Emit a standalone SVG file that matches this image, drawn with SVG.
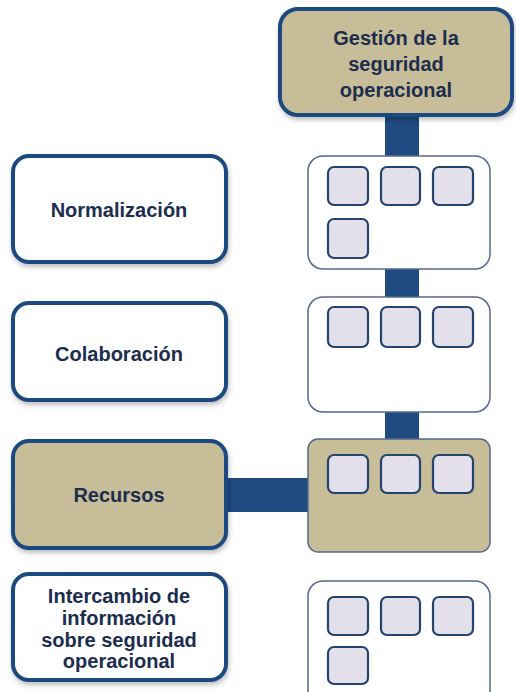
<svg xmlns="http://www.w3.org/2000/svg" width="516" height="692" viewBox="0 0 516 692">
<defs>
<filter id="sh" x="-10%" y="-10%" width="130%" height="130%">
<feDropShadow dx="1" dy="3" stdDeviation="2.5" flood-color="#000" flood-opacity="0.25"/>
</filter>
<style>
.lbl{fill:#ffffff;stroke:#1f4a80;stroke-width:4}
.lbl.tan{fill:#c7bd98}
.grp{fill:#ffffff;stroke:#56698a;stroke-width:1.5}
.grp.tan{fill:#c7bd98}
.sq{fill:#e3e0ec;stroke:#24446e;stroke-width:2.2}
.conn{stroke:#1f4a82;stroke-width:34;fill:none}
text{font-family:"Liberation Sans",Arial,sans-serif;font-weight:bold;font-size:20px;fill:#1c2d4e;text-anchor:middle}
</style>
</defs>
<rect width="516" height="692" fill="#ffffff"/>
<g id="connectors">
<line class="conn" x1="402" y1="112" x2="402" y2="160"/>
<line class="conn" x1="402" y1="266" x2="402" y2="300"/>
<line class="conn" x1="402" y1="409" x2="402" y2="442"/>
<line class="conn" x1="224" y1="495" x2="310" y2="495"/>
</g>
<g id="gestion">
<rect class="lbl tan" x="280" y="9" width="232" height="106" rx="18" filter="url(#sh)"/>
<text x="396" y="45">Gestión de la</text>
<text x="396" y="71">seguridad</text>
<text x="396" y="97">operacional</text>
</g>
<g id="normalizacion">
<rect class="lbl" x="13" y="156" width="213" height="106" rx="16" filter="url(#sh)"/>
<text x="119" y="217">Normalización</text>
</g>
<g id="grupo-normalizacion">
<rect class="grp" x="308" y="156" width="182" height="113" rx="15"/>
<rect class="sq" x="328" y="167" width="40" height="38" rx="6"/>
<rect class="sq" x="381" y="167" width="39" height="38" rx="6"/>
<rect class="sq" x="433" y="167" width="40" height="38" rx="6"/>
<rect class="sq" x="328" y="219" width="40" height="39" rx="6"/>
</g>
<g id="colaboracion">
<rect class="lbl" x="13" y="303" width="213" height="97" rx="16" filter="url(#sh)"/>
<text x="119" y="361">Colaboración</text>
</g>
<g id="grupo-colaboracion">
<rect class="grp" x="308" y="297" width="182" height="115" rx="15"/>
<rect class="sq" x="328" y="307" width="40" height="40" rx="6"/>
<rect class="sq" x="381" y="307" width="39" height="40" rx="6"/>
<rect class="sq" x="433" y="307" width="40" height="40" rx="6"/>
</g>
<g id="recursos">
<rect class="lbl tan" x="13" y="441" width="213" height="107" rx="16" filter="url(#sh)"/>
<text x="119" y="502">Recursos</text>
</g>
<g id="grupo-recursos">
<rect class="grp tan" x="308" y="439" width="182" height="113" rx="10"/>
<rect class="sq" x="328" y="455" width="40" height="38" rx="6"/>
<rect class="sq" x="381" y="455" width="39" height="38" rx="6"/>
<rect class="sq" x="433" y="455" width="40" height="38" rx="6"/>
</g>
<g id="intercambio">
<rect class="lbl" x="13" y="574" width="213" height="106" rx="16" filter="url(#sh)"/>
<text x="119" y="603">Intercambio de</text>
<text x="119" y="625">información</text>
<text x="119" y="647">sobre seguridad</text>
<text x="119" y="668">operacional</text>
</g>
<g id="grupo-intercambio">
<rect class="grp" x="308" y="581" width="182" height="125" rx="15"/>
<rect class="sq" x="328" y="597" width="40" height="38" rx="6"/>
<rect class="sq" x="381" y="597" width="39" height="38" rx="6"/>
<rect class="sq" x="433" y="597" width="40" height="38" rx="6"/>
<rect class="sq" x="328" y="647" width="40" height="37" rx="6"/>
</g>
</svg>
